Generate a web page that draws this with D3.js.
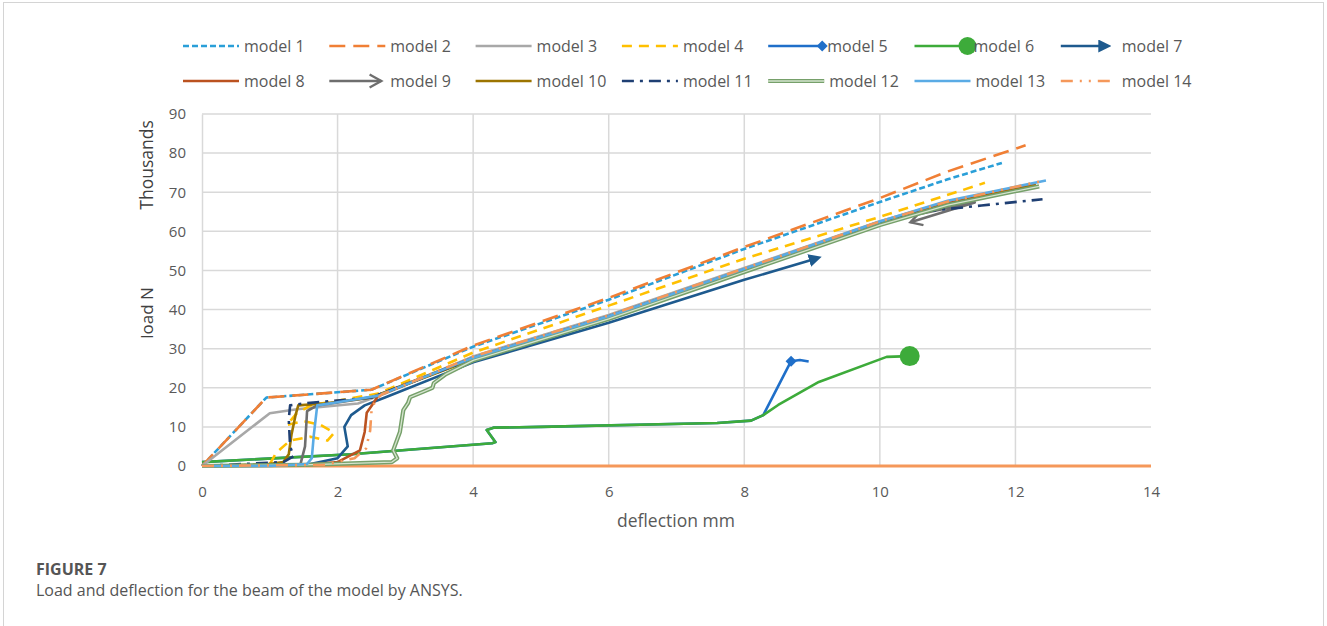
<!DOCTYPE html>
<html>
<head>
<meta charset="utf-8">
<script src="https://cdn.jsdelivr.net/npm/d3@7"></script>
<style>
  body { margin: 0; background: #fff; font-family: "Open Sans", sans-serif; }
  svg { display: block; }
</style>
</head>
<body>
<svg id="chart" width="1327" height="626"></svg>
<script>
// axis ticks
const xTicks = [0, 2, 4, 6, 8, 10, 12, 14];
const yTicks = [0, 10, 20, 30, 40, 50, 60, 70, 80, 90];

// series values: [deflection mm, load kN]
const m1 = [[0, 0], [0.95, 17.5], [2.5, 19.5], [4, 30.5], [6, 42.5], [8, 55.5], [10, 67.5], [11, 73.3], [11.8, 77.5]];
const m2 = [[0, 0], [0.95, 17.5], [2.5, 19.5], [4, 30.8], [6, 43], [8, 56], [10, 68.5], [11, 75.3], [12.15, 82]];
const m3 = [[0, 0], [1.0, 13.5], [1.4, 14.5], [2.3, 16], [2.7, 18.5], [4, 28], [6, 38.6], [8, 50.6], [10, 62.6], [11, 67.5], [12.3, 72]];
const m4 = [[0, 0], [1.0, 0.5], [1.1, 3.5], [1.3, 6.5], [1.6, 7.5], [1.85, 6.5], [1.95, 8.5], [1.75, 10.5], [1.5, 11.5], [1.25, 10.5], [1.4, 13.5], [1.6, 15.5], [2.6, 18.5], [4, 29], [6, 41], [8, 53], [10, 63.7], [11.55, 72.4]];
const m5 = [[0, 1], [2.2, 3], [4.28, 5.8], [4.33, 6.1], [4.2, 9.2], [4.3, 9.8], [5, 10], [7.6, 11], [8.1, 11.6], [8.28, 13], [8.69, 26.8], [8.82, 27.1], [8.95, 26.7]];
const m6 = [[0, 1], [2.2, 3], [4.28, 5.8], [4.33, 6.1], [4.2, 9.2], [4.3, 9.8], [5, 10], [7.6, 11], [8.1, 11.6], [8.28, 13], [8.5, 15.6], [9.1, 21.5], [10.1, 27.9], [10.44, 28.1]];
const m7 = [[0, 0], [1.6, 0.5], [2.0, 2], [2.15, 5], [2.1, 10], [2.2, 13], [2.4, 15.5], [2.7, 17.5], [4, 26.5], [6, 36.6], [8, 47.6], [9.05, 53]];
const m8 = [[0, 0], [1.5, 0.2], [2.0, 1], [2.33, 4], [2.4, 8.7], [2.43, 13.6], [2.51, 15.6], [2.6, 18], [4, 27.6], [6, 38.2], [8, 50.2], [10, 62.2], [11, 67.2], [12.3, 71.9]];
const m9 = [[0, 0], [1.45, 0.3], [1.52, 5], [1.55, 14], [1.7, 15.5], [2.5, 17.5], [4, 27.7], [6, 38.3], [8, 50.3], [10, 62.3], [11.4, 67.4], [10.45, 62.3]];
const m10 = [[0, 0], [0.9, 0.3], [1.2, 1], [1.28, 3], [1.32, 8], [1.38, 13], [1.42, 15.5], [1.8, 16], [2.5, 17.5], [4, 27.3], [6, 37.8], [8, 49.8], [10, 61.8], [11, 66.9], [12.3, 71.8]];
const m11 = [[0, 0], [1.2, 1], [1.35, 2.5], [1.3, 5], [1.28, 12], [1.3, 15.5], [1.5, 16], [2.5, 17.5], [4, 27.5], [6, 38], [8, 50], [10, 62], [10.6, 65], [11.5, 66.6], [12.4, 68.2]];
const m12 = [[0, 0], [1.5, 0.3], [2.8, 1.0], [2.88, 2], [2.82, 4], [2.92, 8.7], [2.97, 14.3], [3.04, 16.1], [3.07, 17.6], [3.25, 18.9], [3.4, 20], [3.42, 21.2], [3.6, 23.5], [4, 27], [6, 37.6], [8, 49.6], [10, 61.6], [11, 66.7], [12.35, 71.5]];
const m13 = [[0, 0], [1.0, 0], [1.55, 0.5], [1.62, 2], [1.65, 8], [1.7, 15.5], [2.0, 16.3], [2.6, 18], [4, 27.7], [6, 38.3], [8, 50.4], [10, 62.5], [11, 67.8], [12.45, 73]];
const m14 = [[0, 0], [1.8, 0.3], [2.25, 2], [2.42, 4.5], [2.48, 9], [2.5, 14], [2.55, 16.5], [2.65, 18.3], [4, 28], [6, 38.5], [8, 50.5], [10, 62.5], [11, 67.6], [12.35, 72.7]];
const m14Base = [[0, 0], [14, 0]];

const names = ["model 1", "model 2", "model 3", "model 4", "model 5", "model 6", "model 7",
  "model 8", "model 9", "model 10", "model 11", "model 12", "model 13", "model 14"];
const colors = ["#2a9fd8", "#f07f35", "#a8a8a8", "#ffc000", "#1f6fc9", "#3dab3a", "#1e5a8e",
  "#bb5220", "#6e6e6e", "#9c7400", "#1f3f73", "#76a06a", "#5aabe5", "#f5985a"];
const dashes = ["6,3", "16,8", null, "10,7", null, null, null,
  null, null, null, "12,6,3,6", null, null, "12,7,2,7,2,7"];

const data = [m1, m2, m3, m4, m5, m6, m7, m8, m9, m10, m11, m12, m13, m14];

const svg = d3.select('#chart');

// figure frame
svg.append('rect')
  .attr('x', 3.5).attr('y', 2.5)
  .attr('width', 1320).attr('height', 660)
  .attr('fill', 'none').attr('stroke', '#d4d4d4').attr('stroke-width', 1);

const x = d3.scaleLinear().domain([0, 14]).range([202, 1151]);
const y = d3.scaleLinear().domain([0, 90]).range([466, 114]);

// grid
svg.append('g')
  .selectAll('line')
  .data(yTicks.filter(d => d > 0))
  .join('line')
  .attr('x1', x(0)).attr('x2', x(14))
  .attr('y1', d => y(d)).attr('y2', d => y(d))
  .attr('stroke', '#d9d9d9').attr('stroke-width', 1.5);

svg.append('g')
  .selectAll('line')
  .data(xTicks.filter(d => d > 0 && d < 14))
  .join('line')
  .attr('x1', d => x(d)).attr('x2', d => x(d))
  .attr('y1', y(0)).attr('y2', y(90))
  .attr('stroke', '#d9d9d9').attr('stroke-width', 1.5);

// axes
const xAxis = svg.append('g')
  .attr('transform', `translate(0,${y(0)})`)
  .call(d3.axisBottom(x).tickValues(xTicks).tickSize(0).tickPadding(20));
const yAxis = svg.append('g')
  .attr('transform', `translate(${x(0)},0)`)
  .call(d3.axisLeft(y).tickValues(yTicks).tickSize(0).tickPadding(16));

[xAxis, yAxis].forEach(a => {
  a.select('.domain').attr('stroke', '#d9d9d9').attr('stroke-width', 1.5);
  a.selectAll('text')
    .attr('fill', '#595959')
    .style('font-family', '"Open Sans", sans-serif')
    .style('font-size', '15px');
});
xAxis.select('.domain').remove();

// axis titles
svg.append('text')
  .attr('x', 676).attr('y', 527)
  .attr('text-anchor', 'middle')
  .attr('fill', '#595959')
  .style('font-size', '17.5px')
  .text('deflection mm');

svg.append('text')
  .attr('transform', 'translate(153,313) rotate(-90)')
  .attr('text-anchor', 'middle')
  .attr('fill', '#404040')
  .style('font-size', '17px')
  .text('load N');

svg.append('text')
  .attr('transform', 'translate(153,165) rotate(-90)')
  .attr('text-anchor', 'middle')
  .attr('fill', '#404040')
  .style('font-size', '17.5px')
  .text('Thousands');

// markers
const defs = svg.append('defs');
defs.append('marker')
  .attr('id', 'arrow7')
  .attr('viewBox', '0 0 10 10')
  .attr('refX', 5).attr('refY', 5)
  .attr('markerWidth', 5).attr('markerHeight', 5)
  .attr('markerUnits', 'strokeWidth')
  .attr('orient', 'auto')
  .append('path')
  .attr('d', 'M0,0 L10,5 L0,10 z')
  .attr('fill', colors[6]);

defs.append('marker')
  .attr('id', 'arrow9')
  .attr('viewBox', '0 0 12 12')
  .attr('refX', 10).attr('refY', 6)
  .attr('markerWidth', 6).attr('markerHeight', 6)
  .attr('markerUnits', 'strokeWidth')
  .attr('orient', 'auto')
  .append('path')
  .attr('d', 'M1,1 L10,6 L1,11')
  .attr('fill', 'none')
  .attr('stroke', colors[8])
  .attr('stroke-width', 1.8);

const line = d3.line()
  .x(d => x(d[0]))
  .y(d => y(d[1]));

// rotated square as the diamond end of model 5
const diamond = d3.symbol().type(d3.symbolSquare).size(60);

const plot = svg.append('g');

// bottom orange line of model 14
plot.append('path')
  .datum(m14Base)
  .attr('d', line)
  .attr('fill', 'none')
  .attr('stroke', colors[13])
  .attr('stroke-width', 3);

// draw order: model 5 under model 6
const order = [4, 5, 0, 1, 2, 3, 6, 7, 8, 9, 10, 11, 12, 13];
order.forEach(i => {
  const p = plot.append('path')
    .datum(data[i])
    .attr('d', line)
    .attr('fill', 'none')
    .attr('stroke', colors[i])
    .attr('stroke-width', 2.6)
    .attr('stroke-linejoin', 'round');
  if (dashes[i]) p.attr('stroke-dasharray', dashes[i]);
  if (i === 6) p.attr('marker-end', 'url(#arrow7)');
  if (i === 8) p.attr('marker-end', 'url(#arrow9)');
  if (i === 11) {
    p.attr('stroke-width', 4.2);
    plot.append('path')
      .datum(data[i])
      .attr('d', line)
      .attr('fill', 'none')
      .attr('stroke', '#d5e4cf')
      .attr('stroke-width', 1.3);
  }
  if (i === 4) {
    const tip = m5[10];
    plot.append('path')
      .attr('d', diamond)
      .attr('transform', `translate(${x(tip[0])},${y(tip[1])}) rotate(45)`)
      .attr('fill', colors[4]);
  }
  if (i === 5) {
    const end = m6[m6.length - 1];
    plot.append('circle')
      .attr('cx', x(end[0])).attr('cy', y(end[1]))
      .attr('r', 10)
      .attr('fill', colors[5]);
  }
});

// legend
const legend = svg.append('g');
names.forEach((name, i) => {
  const col = i % 7, row = Math.floor(i / 7);
  const lx = 183 + col * 146.3;
  const ly = 46 + row * 35;
  const g = legend.append('g').attr('transform', `translate(${lx},${ly})`);
  const l = g.append('line')
    .attr('x1', 0).attr('x2', 56)
    .attr('y1', 0).attr('y2', 0)
    .attr('stroke', colors[i])
    .attr('stroke-width', i === 11 ? 4.2 : 2.6);
  if (dashes[i]) l.attr('stroke-dasharray', dashes[i]);
  if (i === 11) {
    g.append('line').attr('x1', 0).attr('x2', 56)
      .attr('stroke', '#d5e4cf').attr('stroke-width', 1.3);
  }
  if (i === 4) {
    g.append('path').attr('d', diamond).attr('transform', 'translate(54,0) rotate(45)').attr('fill', colors[4]);
  }
  if (i === 5) {
    g.append('circle').attr('cx', 53).attr('cy', 0).attr('r', 9).attr('fill', colors[5]);
  }
  if (i === 6) l.attr('x2', 44).attr('marker-end', 'url(#arrow7)');
  if (i === 8) l.attr('x2', 52).attr('marker-end', 'url(#arrow9)');
  g.append('text')
    .attr('x', i === 4 || i === 5 ? 59 : 61)
    .attr('y', 5.5)
    .attr('fill', '#595959')
    .style('font-size', '16px')
    .text(name);
});

// caption
svg.append('text')
  .attr('x', 36).attr('y', 575)
  .attr('fill', '#555')
  .style('font-size', '16px')
  .style('font-weight', 'bold')
  .text('FIGURE 7');
svg.append('text')
  .attr('x', 36).attr('y', 596)
  .attr('fill', '#555')
  .style('font-size', '16px')
  .text('Load and deflection for the beam of the model by ANSYS.');
</script>
</body>
</html>
